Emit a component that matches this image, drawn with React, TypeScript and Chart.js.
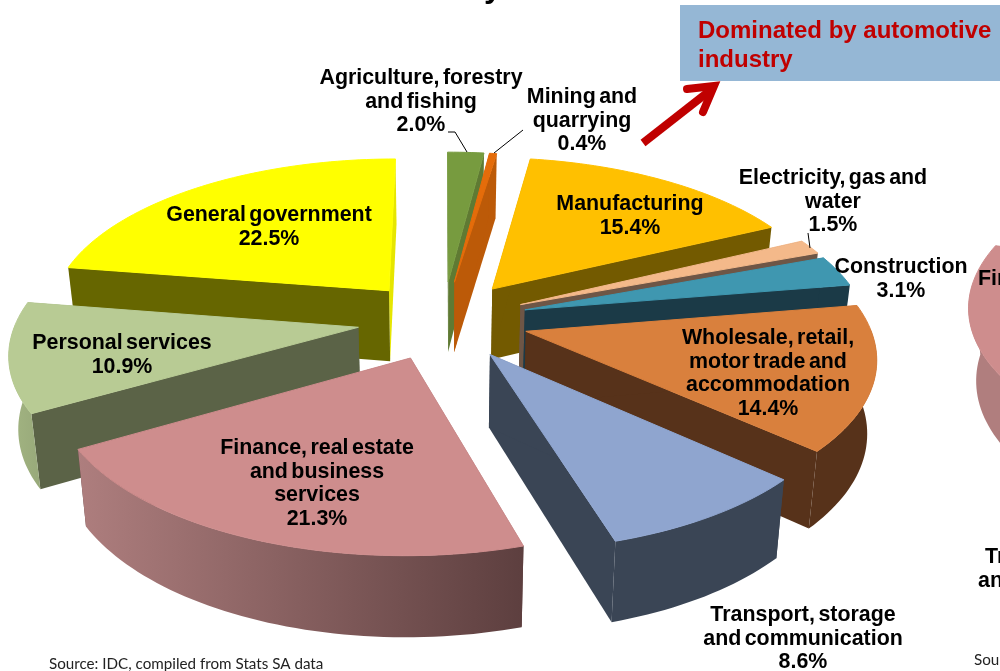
import React, { useEffect, useRef } from "react";
import { Chart, registerables } from "chart.js";

Chart.register(...registerables);

// ---- data ----
const categories = [
  "Agriculture, forestry and fishing",
  "Mining and quarrying",
  "Manufacturing",
  "Electricity, gas and water",
  "Construction",
  "Wholesale, retail, motor trade and accommodation",
  "Transport, storage and communication",
  "Finance, real estate and business services",
  "Personal services",
  "General government",
];
const shares = [2.0, 0.4, 15.4, 1.5, 3.1, 14.4, 8.6, 21.3, 10.9, 22.5];
const explode = [25, 25, 25, 25, 25, 25, 25, 25, 25, 25];
const topColors = ["#779B3F", "#E46C0A", "#FFC000", "#F4B98A", "#3F97B0", "#D9803D", "#8FA5CF", "#CE8D8D", "#B8CB94", "#FFFF00"];
const cutColors = ["#5F7A33", "#BC5A08", "#735A00", "#6E5646", "#1B3A47", "#57321A", "#3A4555", "#5E3E3E", "#5B6347", "#666600"];
const endCutColors = ["#5F7A33", "#BC5A08", "#735A00", "#6E5646", "#1B3A47", "#57321A", "#3A4555", "#5E3E3E", "#5B6347", "#E6E600"];
const rimLeft = ["#5F7A33", "#BC5A08", "#735A00", "#6E5646", "#1B3A47", "#57321A", "#3A4555", "#AE7E7E", "#A3B582", "#666600"];
const rimRight = ["#5F7A33", "#BC5A08", "#735A00", "#6E5646", "#1B3A47", "#57321A", "#3A4555", "#5D3F3F", "#98A97A", "#666600"];

const sideShares = [55.5, 23.7, 20.8];
const sideTop = ["rgba(0,0,0,0)", "#CE8D8D", "rgba(0,0,0,0)"];
const sideCut = ["rgba(0,0,0,0)", "#B07E7E", "rgba(0,0,0,0)"];

const labelLines = [
  ["Agriculture, forestry", "and fishing", "2.0%"],
  ["Mining and", "quarrying", "0.4%"],
  ["Manufacturing", "15.4%"],
  ["Electricity, gas and", "water", "1.5%"],
  ["Construction", "3.1%"],
  ["Wholesale, retail,", "motor trade and", "accommodation", "14.4%"],
  ["Transport, storage", "and communication", "8.6%"],
  ["Finance, real estate", "and business", "services", "21.3%"],
  ["Personal services", "10.9%"],
  ["General government", "22.5%"],
];
const calloutLines = ["Dominated by automotive", "industry"];
const sourceText = "Source: IDC, compiled from Stats SA data";

// ---- layout ----
const labelAnchor = [
  [421, 78], [582, 97], [630, 204], [833, 178], [901, 267],
  [768, 338], [803, 615], [317, 448], [122, 343], [269, 215],
];
const LINE_H = 23.8;
const A = 342, B = 158, P = 0.141, D = 73.3, Q = 0.0225;

function project(cx: number, cy: number, X: number, Y: number, t: number) {
  const s = 1 / ((1 - P * Y) * (1 + Q * t));
  return [cx + A * X * s, cy + (B * Y + D * t) * s];
}

function fillPoly(ctx: CanvasRenderingContext2D, pts: number[][], fill: any, stroke = false) {
  ctx.beginPath();
  pts.forEach((p, i) => (i ? ctx.lineTo(p[0], p[1]) : ctx.moveTo(p[0], p[1])));
  ctx.closePath();
  ctx.fillStyle = fill;
  ctx.fill();
  if (stroke) {
    ctx.strokeStyle = fill;
    ctx.lineWidth = 1;
    ctx.lineJoin = "round";
    ctx.stroke();
  }
}

const pie3D = {
  id: "pie3D",
  beforeDatasetsDraw(chart: any, _a: any, opts: any) {
    const ctx: CanvasRenderingContext2D = chart.ctx;
    const arcs = chart.getDatasetMeta(0).data as any[];
    const order = arcs
      .map((arc, i) => ({ i, y: Math.sin((arc.startAngle + arc.endAngle) / 2) }))
      .sort((a, b) => a.y - b.y);
    for (const { i } of order) {
      const arc = arcs[i];
      const top = opts.top[i];
      if (top === "rgba(0,0,0,0)") continue;
      const mid = (arc.startAngle + arc.endAngle) / 2;
      const e = (arc.options.offset || 0) / 100;
      const ax = Math.cos(mid) * e;
      const ay = Math.sin(mid) * e;
      const cx = arc.x, cy = arc.y;
      const steps = Math.max(4, Math.ceil((arc.endAngle - arc.startAngle) * 40));
      const angles: number[] = [];
      for (let s = 0; s <= steps; s++) angles.push(arc.startAngle + ((arc.endAngle - arc.startAngle) * s) / steps);
      const at = (a: number, t: number) => project(cx, cy, ax + Math.cos(a), ay + Math.sin(a), t);
      const rimTop = angles.map((a) => at(a, 0));
      const last = rimTop.length - 1;
      const rimEnd0 = at(angles[0], 1);
      const rimEnd1 = at(angles[last], 1);
      const apexTop = project(cx, cy, ax, ay, 0);
      const apexBot = project(cx, cy, ax, ay, 1);
      fillPoly(ctx, [apexTop, rimTop[last], rimEnd1, apexBot], opts.endCut[i]);
      fillPoly(ctx, [apexTop, rimTop[0], rimEnd0, apexBot], opts.cut[i]);
      // only the part of the rim that faces the viewer
      const front = angles.filter((a) => Math.sin(a) >= -0.02);
      if (front.length > 1) {
        const upper = front.map((a) => at(a, 0));
        const lower = front.map((a) => at(a, 1));
        const xs = upper.map((p) => p[0]).concat(lower.map((p) => p[0]));
        const g = ctx.createLinearGradient(Math.min(...xs), 0, Math.max(...xs), 0);
        g.addColorStop(0, opts.rimL[i]);
        g.addColorStop(1, opts.rimR[i]);
        fillPoly(ctx, upper.concat(lower.slice().reverse()), g);
      }
      fillPoly(ctx, [apexTop, ...rimTop], top, true);
    }
    return false;
  },
};

const annotations = {
  id: "annotations",
  afterDraw(chart: any) {
    const ctx: CanvasRenderingContext2D = chart.ctx;
    ctx.save();
    // callout
    ctx.fillStyle = "#95B7D5";
    ctx.fillRect(680, 5, 320, 76);
    ctx.fillStyle = "#C00000";
    ctx.font = 'bold 24px "Liberation Sans"';
    ctx.textAlign = "left";
    ctx.textBaseline = "middle";
    calloutLines.forEach((l, i) => ctx.fillText(l, 698, 31 + i * 29));
    // arrow
    ctx.strokeStyle = "#C00000";
    ctx.lineWidth = 8;
    ctx.beginPath();
    ctx.moveTo(643, 143);
    ctx.lineTo(712, 89);
    ctx.stroke();
    ctx.lineCap = "round";
    ctx.lineJoin = "miter";
    ctx.beginPath();
    ctx.moveTo(687, 89);
    ctx.lineTo(714, 86);
    ctx.lineTo(703, 112);
    ctx.stroke();
    ctx.lineCap = "butt";
    // leader lines
    ctx.strokeStyle = "#000";
    ctx.lineWidth = 1;
    ctx.beginPath();
    ctx.moveTo(448, 132); ctx.lineTo(455, 132); ctx.lineTo(467, 152);
    ctx.moveTo(523, 130); ctx.lineTo(494, 153);
    ctx.moveTo(808, 233); ctx.lineTo(810, 248);
    ctx.stroke();
    // slice labels
    ctx.fillStyle = "#000";
    ctx.font = 'bold 21.4px "Liberation Sans"';
    ctx.textAlign = "center";
    (ctx as any).wordSpacing = "-2.5px";
    labelLines.forEach((lines, i) => {
      lines.forEach((l, j) => ctx.fillText(l, labelAnchor[i][0], labelAnchor[i][1] + j * LINE_H));
    });
    (ctx as any).wordSpacing = "0px";
    // clipped text of neighbouring content
    ctx.textAlign = "left";
    ctx.fillText("Fin", 978, 279);
    ctx.fillText("Tr", 985, 557);
    ctx.fillText("an", 978, 581);
    ctx.font = 'bold 32px "Liberation Sans"';
    ctx.fillText("y", 484, -12);
    ctx.font = '15.2px Lato';
    ctx.fillStyle = "#222";
    ctx.fillText(sourceText, 49, 664);
    ctx.fillText("Sou", 974, 660);
    ctx.restore();
  },
};

function makeChart(canvas: HTMLCanvasElement, values: number[], offsets: number[], padding: any, opts: any, plugins: any[], names: string[]) {
  return new Chart(canvas, {
    type: "pie",
    data: {
      labels: names,
      datasets: [{ data: values, backgroundColor: opts.top, offset: offsets, borderWidth: 0 }],
    },
    options: {
      animation: false,
      responsive: false,
      layout: { padding },
      plugins: { legend: { display: false }, tooltip: { enabled: false }, pie3D: opts } as any,
    },
    plugins,
  } as any);
}

export default function App() {
  const mainRef = useRef<HTMLCanvasElement>(null);
  const sideRef = useRef<HTMLCanvasElement>(null);
  useEffect(() => {
    document.body.style.margin = "0";
    const main = makeChart(
      mainRef.current!, shares, explode, { right: 114, bottom: 31 },
      { top: topColors, cut: cutColors, endCut: endCutColors, rimL: rimLeft, rimR: rimRight },
      [pie3D, annotations], categories,
    );
    const side = makeChart(
      sideRef.current!, sideShares, [0, 0, 0], { bottom: 100 },
      { top: sideTop, cut: sideCut, endCut: sideCut, rimL: sideCut, rimR: sideCut },
      [pie3D], ["", "Finance", ""],
    );
    return () => { main.destroy(); side.destroy(); };
  }, []);
  return (
    <div style={{ position: "relative", width: 1000, height: 671, overflow: "hidden", background: "#fff" }}>
      <div style={{ position: "absolute", left: 968, top: 0, width: 32, height: 671, overflow: "hidden" }}>
        <canvas ref={sideRef} width={692} height={671} style={{ display: "block" }} />
      </div>
      <canvas ref={mainRef} width={1000} height={671} style={{ position: "absolute", left: 0, top: 0, display: "block" }} />
    </div>
  );
}
